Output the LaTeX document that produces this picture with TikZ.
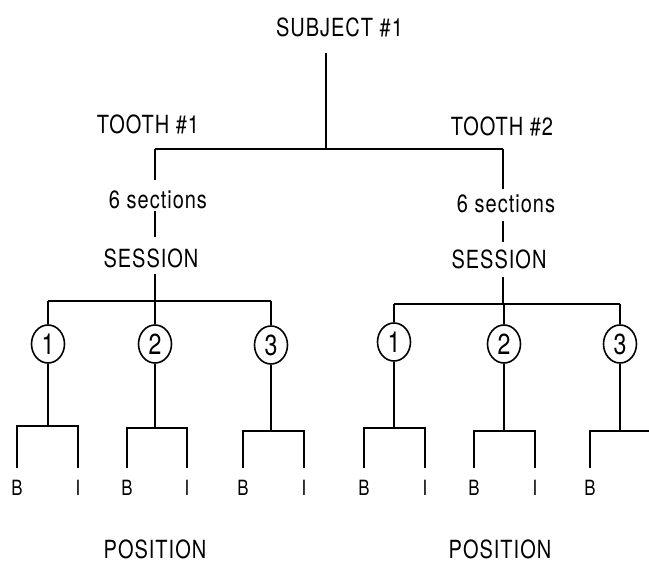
\documentclass[tikz,border=0pt]{standalone}
\usepackage{fontspec}
\setmainfont{TeX Gyre Heros}[FakeStretch=0.8,LetterSpace=4]
\usetikzlibrary{shapes.geometric}
\begin{document}
\begin{tikzpicture}[x=1pt,y=-1pt,line width=1.6pt,
  lbl/.style={inner sep=0pt,font=\fontsize{25}{25}\selectfont},
  sml/.style={inner sep=0pt,font=\fontsize{21}{21}\selectfont},
  num/.style={draw,ellipse,minimum width=33pt,minimum height=38pt,inner sep=0pt,font=\fontsize{29}{29}\selectfont}]
\useasboundingbox (0,0) rectangle (649,562);
% text labels
\node[lbl] (subj) at (339.5,27.5) {SUBJECT \#1};
\node[lbl] (toothL) at (148,124) {TOOTH \#1};
\node[lbl] (toothR) at (502,126) {TOOTH \#2};
\node[lbl] (secL) at (158,200) {6 sections};
\node[lbl] (secR) at (506,204) {6 sections};
\node[lbl] (sesL) at (151,258.5) {SESSION};
\node[lbl] (sesR) at (499,259.5) {SESSION};
\node[lbl] (posL) at (155,549) {POSITION};
\node[lbl] (posR) at (500,549) {POSITION};
% junctions
\coordinate (t0) at (326,149);
\coordinate (tl) at (155,149);
\coordinate (tr) at (503,149);
\coordinate (sbL) at (155,301);
\coordinate (sbR) at (503,304);
% top tree
\draw[shorten <=15pt] (subj.south -| t0) -- (t0);
\draw (tl) -- (tr);
\draw[shorten >=10pt] (tl) -- (tl |- secL.north);
\draw[shorten >=5pt] (tr) -- (tr |- secR.north);
\draw[shorten <=1pt,shorten >=11pt] (secL.south -| tl) -- (sesL.north -| tl);
\draw[shorten <=7pt,shorten >=7pt] (secR.south -| tr) -- (sesR.north -| tr);
\draw[shorten <=5pt] (sesL.south -| sbL) -- (sbL);
\draw[shorten <=7pt] (sesR.south -| sbR) -- (sbR);
% sessions
\node[num] (c1) at (48,344) {1};
\node[num] (c2) at (155,344) {2};
\node[num] (c3) at (271,345) {3};
\node[num] (c4) at (394,342) {1};
\node[num] (c5) at (504,344) {2};
\node[num] (c6) at (620,344) {3};
\draw (c1 |- sbL) -- (c3 |- sbL);
\draw (c4 |- sbR) -- (c6 |- sbR);
\foreach \c in {c1,c2,c3}{\draw (\c |- sbL) -- (\c.north);}
\foreach \c in {c4,c5,c6}{\draw (\c |- sbR) -- (\c.north);}
% position brackets
\coordinate (k1) at (48,426);
\coordinate (k2) at (155,428);
\coordinate (k3) at (271,431);
\coordinate (k4) at (394,428);
\coordinate (k5) at (504,431);
\coordinate (k6) at (620,431);
\node[sml] (B1) at (17,488) {B};
\node[sml] (I1) at (78,488) {I};
\node[sml] (B2) at (127,488) {B};
\node[sml] (I2) at (187,488) {I};
\node[sml] (B3) at (243,488) {B};
\node[sml] (I3) at (304,488) {I};
\node[sml] (B4) at (364,488) {B};
\node[sml] (I4) at (425,488) {I};
\node[sml] (B5) at (474,488) {B};
\node[sml] (I5) at (535,488) {I};
\node[sml] (B6) at (590,488) {B};
\coordinate (e6) at (652,431);
\foreach \i in {1,...,6}{\draw (c\i.south) -- (k\i);}
\foreach \i in {1,...,5}{\draw[shorten <=12pt,shorten >=12pt] (B\i.north) |- (k\i) -| (I\i.north);}
\draw[shorten <=12pt] (B6.north) |- (k6) -- (e6);
\end{tikzpicture}
\end{document}
